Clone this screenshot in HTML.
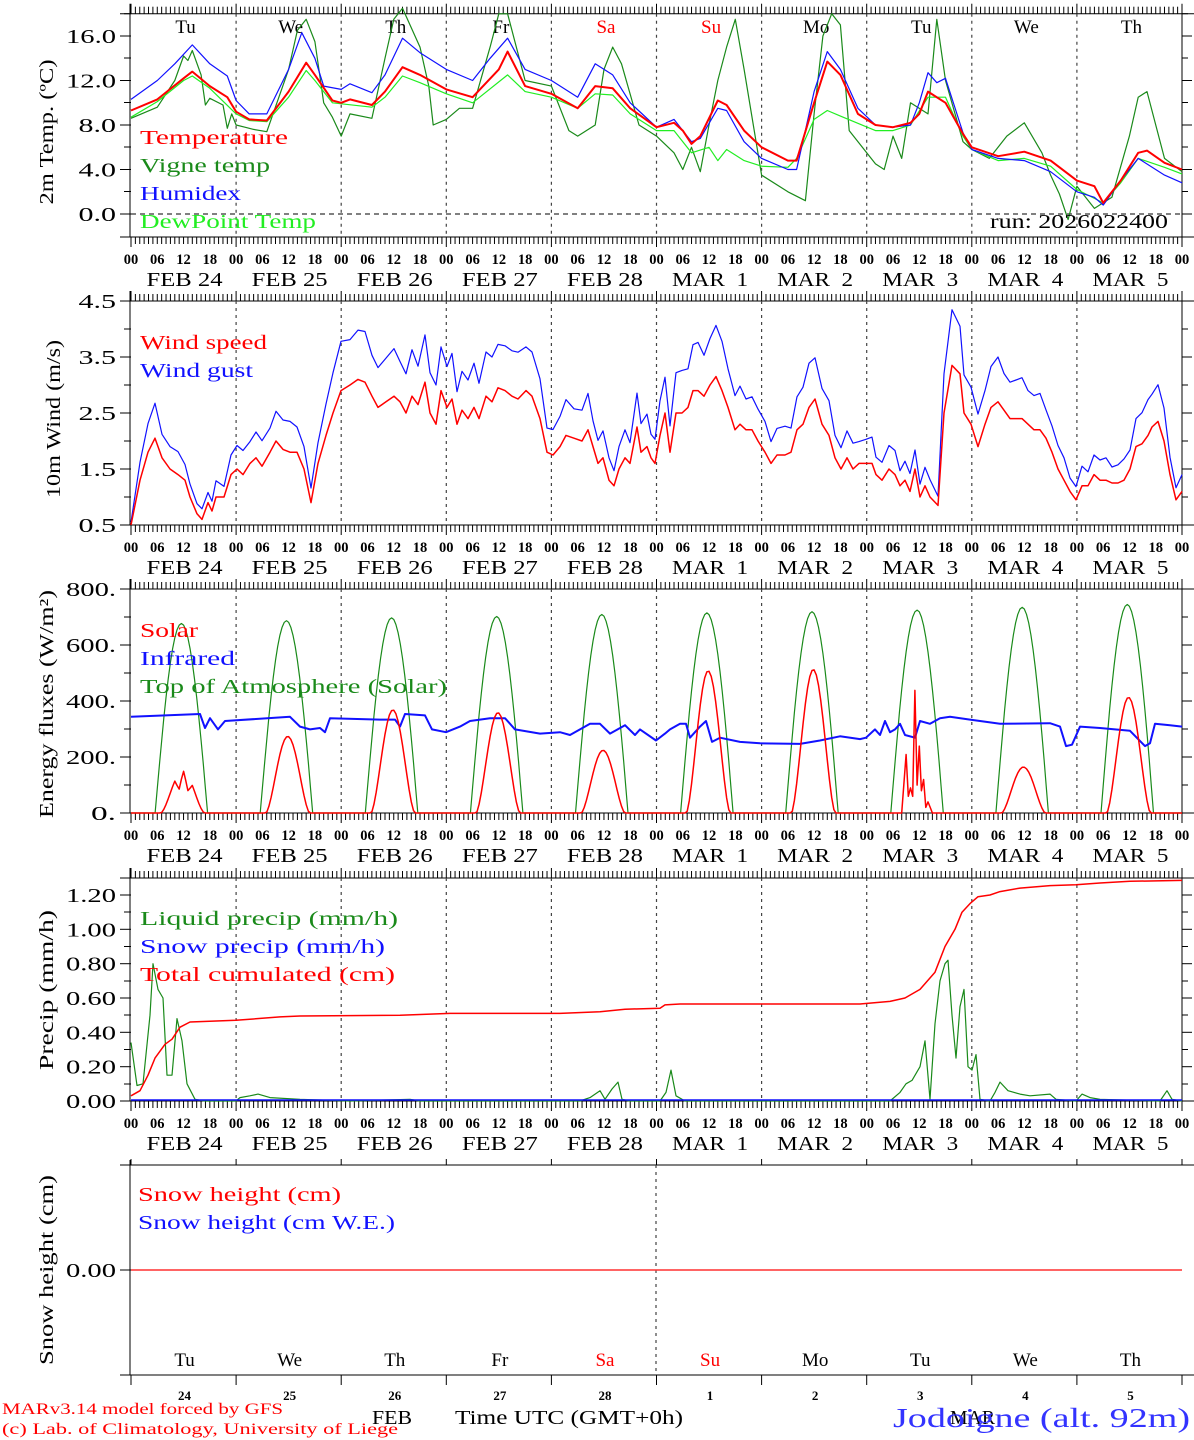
<!DOCTYPE html>
<html><head><meta charset="utf-8"><style>
html,body{margin:0;padding:0;background:#fff}
svg{display:block}
text{font-family:"Liberation Serif",serif}
</style></head><body>
<svg id="s" width="1194" height="1440" xmlns="http://www.w3.org/2000/svg"></svg>
<script>
const S=document.getElementById('s');let o='';
const L=131,R=1182,DW=(R-L)/10,HW=(R-L)/240;
const X=h=>L+h*HW;
function line(x1,y1,x2,y2,c,w,da){o+=`<line x1="${x1}" y1="${y1}" x2="${x2}" y2="${y2}" stroke="${c||'#000'}" stroke-width="${w||1}"${da?` stroke-dasharray="${da}"`:''}/>`;}
function txt(x,y,s,sz,c,anc,tl,extra){o+=`<text x="${x}" y="${y}" font-size="${sz}" fill="${c||'#000'}"${anc?` text-anchor="${anc}"`:''}${tl?` textLength="${tl}" lengthAdjust="spacingAndGlyphs"`:''} ${extra||''}>${s}</text>`;}
function poly(pts,c,w){o+=`<polyline fill="none" stroke="${c}" stroke-width="${w||1}" stroke-linejoin="round" points="${pts.map(p=>p[0].toFixed(1)+','+p[1].toFixed(1)).join(' ')}"/>`;}
const days=['Tu','We','Th','Fr','Sa','Su','Mo','Tu','We','Th'];
const dates=['FEB 24','FEB 25','FEB 26','FEB 27','FEB 28','MAR  1','MAR  2','MAR  3','MAR  4','MAR  5'];
function frame(top,bot,yt,minor){
  line(120,top,1194,top);line(L-1,top-10,L-1,bot);line(R,top,R,bot);line(120,bot,1194,bot);
  for(let h=0;h<=240;h++){const x=X(h);const big=h%24==0;
    line(x,top,x,top-(big?10:7),'#000',1);line(x,bot,x,bot+(big?10:7),'#000',1);}
  for(let d=1;d<10;d++)line(X(d*24),top,X(d*24),bot,'#444',1.2,'3,4');
  yt.forEach(([v,y])=>{line(120,y,L,y);line(R,y,1192,y);txt(116,y+7,v,20,'#000','end',v.length*12.5);});
  minor.forEach(y=>{line(124,y,L,y);line(R,y,1188,y);});
  for(let h=0;h<=240;h+=6){txt(X(h),bot+27,String(h%24).padStart(2,'0'),14.5,'#000','middle',null,'font-weight="bold"');}
  for(let d=0;d<10;d++){txt(X(d*24+12)+1,bot+49,dates[d],20,'#000','middle',76,'xml:space="preserve"');}
}
function ytitle(x,y,s,tl){txt(x,y,s,20,'#000','middle',tl,`transform="rotate(-90 ${x} ${y})" xml:space="preserve"`);}
function interp(pts,h){for(let i=0;i<pts.length-1;i++){if(h>=pts[i][0]&&h<=pts[i+1][0]){const t=(h-pts[i][0])/(pts[i+1][0]-pts[i][0]||1);return pts[i][1]+t*(pts[i+1][1]-pts[i][1]);}}return pts[pts.length-1][1];}
// ---------- Panel 1
frame(13.7,237,[['16.0',36],['12.0',80.5],['8.0',125],['4.0',169.5],['0.0',214]],[58,102.5,147,191.5,13.7]);
line(L,214,R,214,'#000',1,'5,4');
for(let d=0;d<10;d++)txt(X(d*24+12)+2,33,days[d],19,(d==4||d==5)?'#f00':'#000','middle');
const Y1=v=>214-v*11.125;
const hp=a=>{const r=[];for(let i=0;i<a.length;i+=2)r.push([X(a[i]),Y1(a[i+1])]);return r;};
const vig=[0,8.6,6,9.6,10,12,12,14.2,13,13.8,14,14.7,16,12.5,17,9.8,18,10.4,21,9.8,22,7.7,23,9,24,8,26,7.8,28,7.6,31,7.4,36,13,38,16.5,40,17.5,42,15.5,44,10,46,8.7,48,7,50,9,55,8.6,58,14,60,17.5,62,18.5,66,15,68,11.5,69,8,72,8.5,75,9.5,78,9.5,82,15,84,18,86,18,90,12,96,11.5,100,7.5,102,7,106,8,108,13,110,15,112,13.5,116,8,120,7,124,5.5,126,4,128,6,130,3.8,132,8,134,12,136,15,138,17.5,140,13,144,3.5,150,2,154,1.2,156,9,158,16,160,18,162,17,164,7.5,170,4.5,172,4,174,7,176,5,178,10,182,9,184,17.5,186,12,190,6.5,192,5.8,196,5,200,7,204,8.2,208,5.5,210,3.5,212,1.8,214,-0.5,216,2.5,220,0.5,224,1.5,228,7,230,10.5,232,11,236,5,240,3.8];
const dew=[0,8.7,6,10.1,12,12,14,12.4,18,11.3,24,9,27,8.4,31,8.3,36,10.5,40,12.9,42,12,46,10,55,9.6,58,10.5,62,12.4,66,11.8,72,10.8,78,10,86,12.5,90,11,96,10.5,102,9.5,106,10.8,110,10.7,114,9,120,7.5,124,7.5,128,5.5,132,6,134,4.8,136,5.8,140,4.8,144,4.3,150,4.2,152,5,156,8.5,159,9.3,162,8.8,170,7.5,174,7.5,178,8,182,10.5,186,10.5,190,7,192,5.8,198,4.8,204,5,210,4.3,216,2.2,222,1,226,2.8,230,5,236,4.2,240,3.6];
const hum=[0,10.3,6,12,10,13.5,14,15.2,18,13.5,22,12.4,24,10.2,27,9,31,9,36,13,39,16.3,42,14,44,11.5,48,11.2,50,11.7,55,10.9,58,12.5,62,15.8,66,14.5,72,13,78,12,82,14,86,15.8,90,13,96,12,102,10.5,106,13.5,110,12.5,114,10,120,7.8,124,8.5,128,6.5,130,6.8,134,9.5,136,9.3,140,6.5,144,5,150,4,152,4,156,11,159,14.6,162,13,166,9.5,170,8,174,7.8,178,8,180,10,182,12.7,184,11.8,186,12.2,190,7.3,192,5.8,198,5,204,4.8,210,3.8,216,2,220,1.5,222,0.8,226,3,230,5,236,3.5,240,2.8];
const tem=[0,9.3,6,10.3,12,12.2,14,12.8,18,11.5,22,10.5,24,9.2,27,8.5,31,8.4,36,11,40,13.6,42,12.5,46,10.2,48,10,50,10.3,55,9.8,58,11,62,13.2,66,12.5,72,11.2,78,10.5,84,13,86,14.6,90,11.5,96,10.8,102,9.5,106,11.5,110,11.3,114,9.5,120,7.8,124,8.2,126,7.5,128,6.3,130,7,134,10.2,136,9.8,140,7.5,144,6,150,4.8,152,4.8,156,10,159,13.7,162,12.5,166,9,170,8,174,7.8,178,8.2,180,9,182,11,186,10,190,7.2,192,6,198,5.2,204,5.6,210,4.8,216,3,220,2.5,222,1,226,3,230,5.5,232,5.7,236,4.6,240,4];
poly(hp(vig),'#1a8a1a',1.2);poly(hp(dew),'#22ee22',1.2);poly(hp(hum),'#1111ff',1.2);poly(hp(tem),'#ff0000',2);
txt(140,144,'Temperature',20,'#f00',null,148);txt(140,172,'Vigne temp',20,'#1a8a1a',null,130,'xml:space="preserve"');
txt(140,200,'Humidex',20,'#11f',null,101);txt(140,228,'DewPoint Temp',20,'#2e2',null,176,'xml:space="preserve"');
txt(990,228,'run: 2026022400',20,'#000',null,178,'xml:space="preserve"');
ytitle(53,132,'2m Temp. (ºC)',145);
// ---------- Panel 2
const Y2=v=>525-(v-0.5)*56;
frame(301,525,[['4.5',301],['3.5',357],['2.5',413],['1.5',469],['0.5',525]],[329,385,441,497]);
const ws=[[131,0.5],[140,1.3],[148,1.8],[155,2.05],[162,1.7],[170,1.5],[178,1.4],[185,1.3],[190,1.0],[197,0.7],[202,0.6],[208,0.9],[212,0.75],[216,1.0],[224,1.0],[231,1.4],[237,1.5],[243,1.4],[250,1.6],[256,1.7],[262,1.55],[270,1.8],[276,2.0],[283,1.85],[290,1.8],[297,1.8],[304,1.5],[311,0.9],[318,1.6],[326,2.1],[333,2.5],[341,2.9],[350,3.0],[358,3.1],[365,3.05],[372,2.8],[378,2.6],[386,2.7],[394,2.8],[400,2.7],[406,2.5],[412,2.8],[418,2.65],[425,3.05],[430,2.5],[436,2.3],[441,2.9],[447,2.6],[452,2.75],[457,2.3],[462,2.55],[468,2.4],[474,2.6],[479,2.4],[486,2.8],[492,2.7],[498,2.95],[505,2.9],[512,2.8],[518,2.75],[526,2.9],[532,2.8],[540,2.4],[547,1.8],[553,1.75],[560,1.9],[566,2.1],[574,2.05],[582,2.0],[588,2.2],[593,1.9],[598,1.6],[603,1.7],[609,1.3],[614,1.2],[619,1.5],[625,1.7],[630,1.6],[637,2.25],[641,1.8],[647,1.9],[651,1.7],[655,1.6],[660,2.1],[665,2.5],[670,1.8],[676,2.5],[682,2.5],[688,2.6],[693,2.9],[698,2.9],[704,2.8],[710,3.0],[716,3.15],[722,2.9],[728,2.6],[735,2.2],[740,2.3],[746,2.2],[752,2.2],[758,2.0],[765,1.8],[771,1.6],[777,1.75],[785,1.75],[791,1.8],[797,2.2],[803,2.3],[809,2.6],[815,2.75],[822,2.3],[829,2.1],[835,1.7],[841,1.5],[847,1.7],[853,1.5],[859,1.6],[866,1.6],[872,1.6],[876,1.4],[882,1.3],[889,1.5],[895,1.4],[900,1.2],[905,1.3],[910,1.1],[915,1.5],[920,1.0],[925,1.2],[930,1.0],[938,0.85],[944,2.5],[952,3.35],[960,3.2],[964,2.5],[971,2.3],[978,1.9],[985,2.3],[991,2.6],[998,2.7],[1004,2.55],[1010,2.4],[1016,2.4],[1022,2.4],[1028,2.3],[1034,2.2],[1040,2.2],[1046,2.05],[1052,1.8],[1058,1.5],[1064,1.3],[1070,1.1],[1076,0.95],[1082,1.2],[1088,1.2],[1094,1.4],[1100,1.3],[1106,1.3],[1112,1.25],[1118,1.25],[1124,1.3],[1130,1.5],[1136,1.9],[1142,1.95],[1148,2.1],[1152,2.25],[1158,2.35],[1164,2.0],[1170,1.4],[1176,0.95],[1182,1.1]];
const gs=ws.map((p,i)=>[p[0],Math.max(0.55,p[1]*1.3-0.05+((i*37)%7-3)*0.02)]);
poly(gs.map(p=>[p[0],Y2(p[1])]),'#1111ff',1.2);poly(ws.map(p=>[p[0],Y2(p[1])]),'#ff0000',1.5);
txt(140,349,'Wind speed',20,'#f00',null,127,'xml:space="preserve"');txt(140,377,'Wind gust',20,'#11f',null,113,'xml:space="preserve"');
ytitle(60,419,'10m Wind (m/s)',158);
// ---------- Panel 3
const Y3=v=>813-v*223/800;
frame(589,813,[['800.',589],['600.',645],['400.',701],['200.',757],['0.',813]],[617,673,729,785]);
const toa=[680,690,700,705,712,718,722,728,738,748],sol=[150,275,370,360,225,510,515,0,165,415];
let g=[],r=[];
for(let h=0;h<=240;h+=0.5){const d=Math.floor(h/24)%10,hh=h-Math.floor(h/24)*24;
  let tv=(hh>5.5&&hh<17.5)?toa[d]*Math.sin(Math.PI*(hh-5.5)/12):0;g.push([X(h),Y3(tv)]);
  let sv=(hh>6.8&&hh<16.8)?sol[d]*Math.pow(Math.sin(Math.PI*(hh-6.8)/10),1.6):0;
  if(d==0&&hh>10&&hh<14)sv*=0.8+0.2*Math.cos((hh-12)*3);
  if(d==7){const sp=[[6.8,0],[8,0],[9,210],[9.5,60],[10,90],[10.5,60],[11,440],[11.5,100],[12,240],[12.5,80],[13,120],[13.5,20],[14,40],[15,0],[24,0]];sv=(hh>6.8&&hh<15)?interp(sp,hh):0;}
  r.push([X(h),Y3(sv)]);}
poly(g,'#1a8a1a',1.2);
const ir=[[131,345],[200,355],[205,305],[210,340],[218,300],[225,330],[290,345],[300,310],[310,300],[320,305],[325,290],[330,340],[380,335],[395,335],[400,310],[405,355],[425,350],[432,300],[446,290],[460,310],[470,330],[490,340],[505,340],[515,300],[540,285],[560,290],[570,280],[580,300],[590,320],[600,320],[610,285],[625,315],[635,280],[640,300],[656,260],[665,285],[670,300],[680,320],[686,320],[690,270],[700,310],[706,330],[712,255],[720,270],[740,255],[760,250],[800,248],[820,260],[840,275],[860,265],[866,270],[875,300],[880,280],[885,330],[890,290],[895,300],[900,320],[905,280],[915,270],[920,330],[930,320],[940,340],[950,345],[970,335],[1000,320],[1050,322],[1060,310],[1066,240],[1072,245],[1080,310],[1100,305],[1130,295],[1145,240],[1150,250],[1155,320],[1170,315],[1182,310]];
poly(ir.map(p=>[p[0],Y3(p[1])]),'#1111ff',2);poly(r,'#ff0000',1.5);
txt(140,637,'Solar',20,'#f00',null,58);txt(140,665,'Infrared',20,'#11f',null,95);txt(140,693,'Top of Atmosphere (Solar)',20,'#1a8a1a',null,307,'xml:space="preserve"');
ytitle(53,704,'Energy fluxes (W/m²)',228);
// ---------- Panel 4
const Y4=v=>1101-v*171.67;
frame(878,1101,[['1.20',895],['1.00',929.3],['0.80',963.7],['0.60',998],['0.40',1032.3],['0.20',1066.7],['0.00',1101]],[878,912,946.5,981,1015,1049.5,1084]);
const liq=[[131,0.34],[137,0.09],[143,0.1],[150,0.5],[153,0.8],[158,0.65],[163,0.6],[167,0.15],[172,0.15],[177,0.48],[182,0.35],[187,0.1],[195,0.01],[205,0],[236,0],[240,0.02],[250,0.03],[258,0.04],[270,0.02],[300,0.01],[350,0],[410,0.01],[420,0],[580,0],[590,0.02],[600,0.06],[605,0.01],[612,0.07],[618,0.11],[622,0.01],[630,0],[660,0],[666,0.05],[671,0.18],[676,0.03],[685,0],[890,0],[900,0.05],[906,0.1],[912,0.12],[920,0.2],[925,0.35],[930,0.01],[935,0.45],[940,0.7],[945,0.8],[948,0.82],[952,0.5],[956,0.25],[960,0.55],[964,0.65],[968,0.2],[972,0.18],[976,0.27],[980,0.01],[990,0],[995,0.05],[1000,0.11],[1008,0.06],[1020,0.04],[1030,0.03],[1050,0.04],[1056,0.01],[1076,0],[1082,0.04],[1090,0.02],[1100,0.01],[1160,0],[1167,0.06],[1172,0.01],[1182,0]];
const cum=[[131,0.03],[140,0.06],[148,0.15],[155,0.25],[165,0.33],[172,0.36],[180,0.43],[190,0.46],[236,0.47],[280,0.49],[300,0.495],[400,0.5],[450,0.51],[560,0.51],[600,0.52],[625,0.535],[660,0.54],[665,0.56],[680,0.565],[860,0.565],[890,0.58],[905,0.6],[920,0.65],[935,0.75],[945,0.9],[955,1.0],[962,1.1],[970,1.15],[978,1.19],[990,1.2],[1000,1.22],[1020,1.24],[1050,1.255],[1076,1.26],[1100,1.27],[1130,1.28],[1182,1.285]];
poly(liq.map(p=>[p[0],Y4(p[1])]),'#1a8a1a',1.2);line(L,1100,R,1100,'#11f',1.5);
poly(cum.map(p=>[p[0],Y4(p[1])]),'#ff0000',1.5);
txt(140,925,'Liquid precip (mm/h)',20,'#1a8a1a',null,258,'xml:space="preserve"');txt(140,953,'Snow precip (mm/h)',20,'#11f',null,245,'xml:space="preserve"');txt(140,981,'Total cumulated (cm)',20,'#f00',null,255,'xml:space="preserve"');
ytitle(53,990,'Precip (mm/h)',160);
// ---------- Panel 5
line(120,1165,1194,1165);line(L-1,1160,L-1,1375);line(120,1375,1194,1375);
for(let d=0;d<=10;d++){line(X(d*24),1165,X(d*24),1159);line(X(d*24),1375,X(d*24),1385);}
line(120,1270,L,1270);line(656,1165,656,1375,'#444',1.2,'3,4');
line(L,1270,R,1270,'#ff3030',1.5);
txt(116,1277,'0.00',20,'#000','end',50);
txt(138,1201,'Snow height (cm)',20,'#f00',null,203,'xml:space="preserve"');txt(138,1229,'Snow height (cm W.E.)',20,'#11f',null,257,'xml:space="preserve"');
ytitle(53,1270,'Snow height (cm)',190);
const dn=['24','25','26','27','28','1','2','3','4','5'];
for(let d=0;d<10;d++){txt(X(d*24+12)+1,1366,days[d],19,(d==4||d==5)?'#f00':'#000','middle');txt(X(d*24+12)+1,1400,dn[d],13,'#000','middle',null,'font-weight="bold"');}
txt(372,1424,'FEB',20,'#000',null,40);txt(455,1424,'Time UTC (GMT+0h)',20,'#000',null,228,'xml:space="preserve"');txt(950,1424,'MAR',20,'#000',null,45);
txt(893,1427,'Jodoigne (alt. 92m)',27,'#3333ff',null,297,'xml:space="preserve"');
txt(2,1414,'MARv3.14 model forced by GFS',16,'#f00',null,281,'xml:space="preserve"');
txt(2,1434,'(c) Lab. of Climatology, University of Liege',16,'#f00',null,396,'xml:space="preserve"');
S.innerHTML=o;
</script>
</body></html>
